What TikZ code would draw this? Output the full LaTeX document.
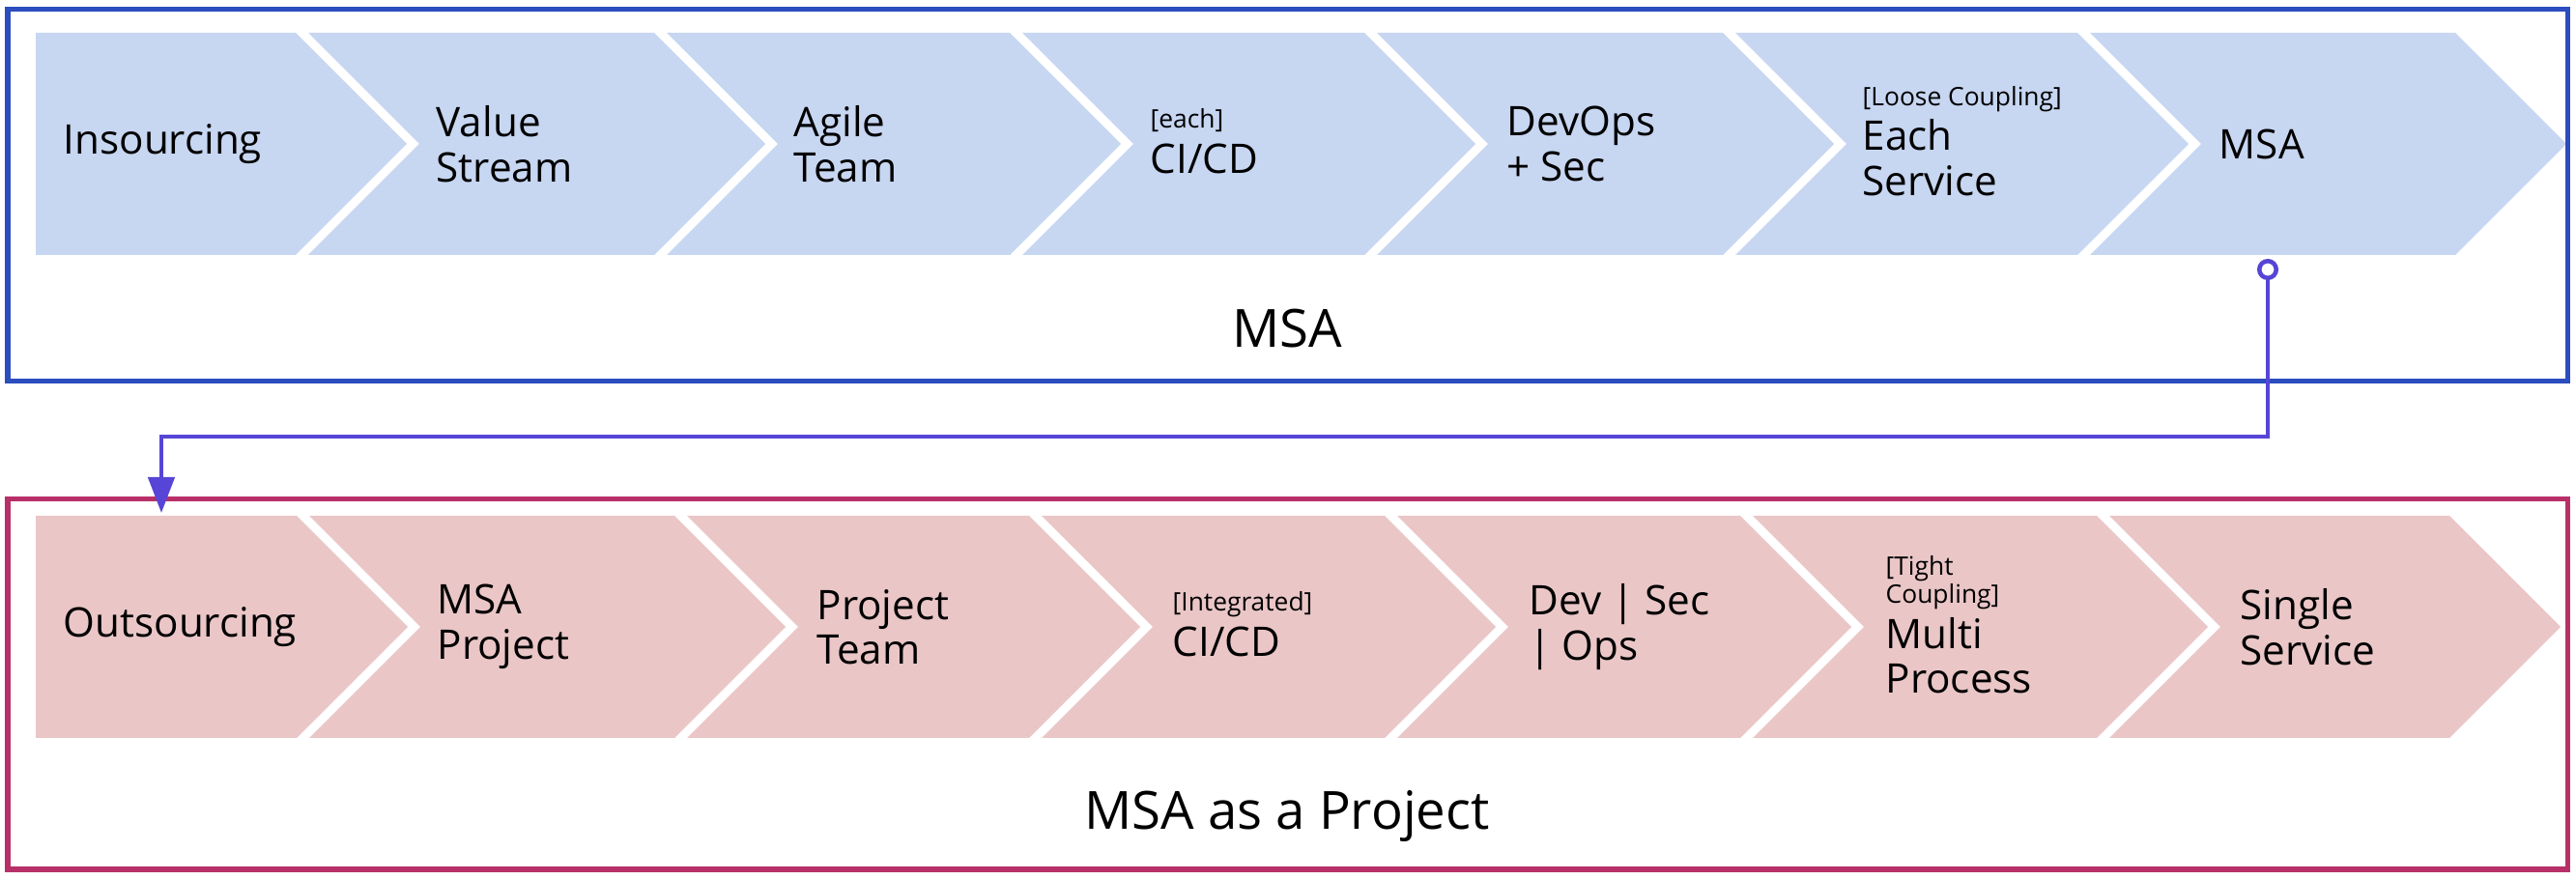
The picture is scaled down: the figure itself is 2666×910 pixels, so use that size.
\documentclass[tikz,border=0pt]{standalone}
\usepackage{fontspec}
\setmainfont{Open Sans}
\usepackage{xcolor}
\usepackage{tikz}
\usetikzlibrary{arrows.meta}
\usetikzlibrary{calc}

\definecolor{msafill}{RGB}{199,214,241}
\definecolor{projfill}{RGB}{234,198,199}
\definecolor{msaline}{RGB}{43,77,190}
\definecolor{projline}{RGB}{184,48,104}
\definecolor{linkblue}{RGB}{86,69,214}

\newcommand{\tagtext}[1]{{\fontsize{7.5}{9}\selectfont #1}}

\begin{document}
\begin{tikzpicture}[x=0.01cm,y=-0.01cm,
  stage/.style={anchor=west,align=left,inner sep=0pt,font=\fontsize{12}{13.2}\selectfont},
  boxtitle/.style={inner sep=0pt,font=\fontsize{15.5}{18}\selectfont},
  link/.style={color=linkblue,line width=0.045cm,{Circle[open,length=0.22cm,width=0.22cm,fill=white]}-{Triangle[length=0.37cm,width=0.27cm]}}]
\useasboundingbox (0,0) rectangle (2666,910);
\fill[color=msafill] (37,34) -- (306,34) -- (421,149) -- (306,264) -- (37,264) -- cycle;
\foreach \p/\t in {421/792,792/1160,1160/1527,1527/1898,1898/2265,2265/2656}
  \fill[color=msafill] (\p-102,34) -- (\t-115,34) -- (\t,149) -- (\t-115,264) -- (\p-102,264) -- (\p+13,149) -- cycle;
\fill[color=projfill] (37,534) -- (307,534) -- (422,649) -- (307,764) -- (37,764) -- cycle;
\foreach \p/\t in {422/813,813/1180,1180/1548,1548/1916,1916/2285,2285/2650}
  \fill[color=projfill] (\p-102,534) -- (\t-115,534) -- (\t,649) -- (\t-115,764) -- (\p-102,764) -- (\p+13,649) -- cycle;
\draw[color=msaline, line width=0.05cm] (8,10) rectangle (2657,395);
\draw[color=projline, line width=0.05cm] (8,517) rectangle (2657,900);
\node[stage] (ins) at (65,149) {Insourcing};
\node[stage] (vs) at (451,149) {Value\\Stream};
\node[stage] (agile) at (821,149) {Agile\\Team};
\node[stage] (cicd) at (1190,146) {\tagtext{[each]}\\CI/CD};
\node[stage] (devops) at (1559,149) {DevOps\\+ Sec};
\node[stage] (each) at (1927,146) {\tagtext{[Loose Coupling]}\\Each\\Service};
\node[stage] (msa) at (2296,149) {MSA};
\node[boxtitle] (msatitle) at (1332,340) {MSA};
\node[stage] (out) at (65,649) {Outsourcing};
\node[stage] (proj) at (452,649) {MSA\\Project};
\node[stage] (pteam) at (845,649) {Project\\Team};
\node[stage] (icicd) at (1213,646) {\tagtext{[Integrated]}\\CI/CD};
\node[stage] (devsec) at (1582,649) {Dev | Sec\\| Ops};
\node[stage] (multi) at (1951,647) {\tagtext{[Tight}\\[-5pt]\tagtext{Coupling]}\\Multi\\Process};
\node[stage] (single) at (2318,649) {Single\\Service};
\node[boxtitle] (projtitle) at (1332,845) {MSA as a Project};
\coordinate (from) at (2347,268);
\coordinate (to) at (167,531);
\draw[link] (from) -- ++(0,184) -| (to);
\end{tikzpicture}
\end{document}
